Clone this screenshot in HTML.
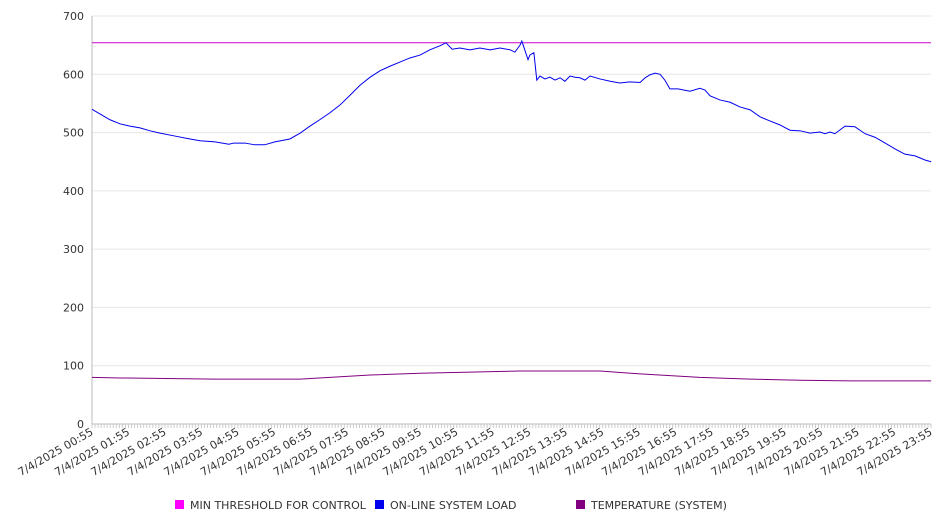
<!DOCTYPE html>
<html><head><meta charset="utf-8"><style>
body{margin:0;background:#fff;font-family:"DejaVu Sans","Liberation Sans",sans-serif;}
svg text{font-family:"DejaVu Sans","Liberation Sans",sans-serif;font-size:11px;fill:#333;}
</style></head><body>
<svg id="chart" width="946" height="526" xmlns="http://www.w3.org/2000/svg">
<g id="grid"></g><g id="axes"></g><g id="series"></g><g id="legend"></g>
</svg>
<script>
const yTicks=[0,100,200,300,400,500,600,700];
const xTickLabels=["00:55","01:55","02:55","03:55","04:55","05:55","06:55","07:55","08:55","09:55","10:55","11:55","12:55","13:55","14:55","15:55","16:55","17:55","18:55","19:55","20:55","21:55","22:55","23:55"];
const thresholdValue=654;
const loadTimes=[0.917,1.136,1.41,1.684,1.958,2.233,2.507,2.781,3.192,3.603,3.877,4.289,4.67,4.8,5.11,5.38,5.65,5.93,6.34,6.62,6.89,7.16,7.44,7.71,7.99,8.26,8.54,8.81,9.09,9.36,9.63,9.91,10.18,10.46,10.62,10.79,11.0,11.28,11.55,11.83,12.1,12.38,12.51,12.65,12.7,12.87,12.92,13.03,13.11,13.2,13.33,13.47,13.61,13.75,13.88,14.02,14.16,14.29,14.43,14.57,14.84,15.12,15.39,15.66,15.94,16.08,16.21,16.35,16.49,16.62,16.76,16.98,17.31,17.58,17.72,17.86,18.13,18.41,18.68,18.96,19.23,19.5,19.78,20.05,20.33,20.6,20.87,21.01,21.15,21.28,21.56,21.83,22.11,22.38,22.66,22.93,23.2,23.48,23.75,23.92];
const loadValues=[540,532,522,515,511,508,503,499,494,489,486,484,480,482,482,479,479,484,489,499,511,522,534,547,564,581,595,606,614,621,628,633,642,649,654,643,645,642,645,642,645,642,638,650,657,625,633,637,590,597,592,595,590,594,588,597,595,594,590,597,592,588,585,587,586,594,599,602,600,590,575,575,571,576,573,563,556,552,544,539,527,520,513,504,503,499,501,498,501,498,511,510,498,492,482,472,463,460,453,450];
const tempTimes=[0.917,1.68,4.29,6.62,7.44,8.54,9.91,11.28,12.65,14.84,15.94,17.58,18.96,20.33,21.69,23.92];
const tempValues=[80,79,77,77,80,84,87,89,91,91,86,80,77,75,74,74];

const L=92,R=931,T=16,B=424,t0=0.9167,t1=23.9167;
const xs=t=>L+(t-t0)/(t1-t0)*(R-L);
const ys=v=>B-v/700*(B-T);
const NS="http://www.w3.org/2000/svg";
function mk(tag,parent,attrs){const e=document.createElementNS(NS,tag);for(const k in attrs)e.setAttribute(k,attrs[k]);parent.appendChild(e);return e;}
const grid=document.getElementById('grid'),axes=document.getElementById('axes'),series=document.getElementById('series'),legend=document.getElementById('legend');
yTicks.forEach(v=>{
  const l=mk('line',grid,{x1:L,x2:R,y1:ys(v),y2:ys(v),stroke:v===0?'#bbb':'#e6e6e6','stroke-width':1});
  
  
  const t=mk('text',axes,{x:84,y:ys(v)+4,'text-anchor':'end'});
  
  
  t.textContent=v;
});
const ax=mk('line',axes,{x1:L,x2:L,y1:T,y2:B,stroke:'#bbb'});


for(let i=0;i<=276;i++){const x=L+i*(R-L)/276;const tk=mk('line',axes,{x1:x,x2:x,y1:B,y2:B+4,stroke:'#ccc'});
  
  }
xTickLabels.forEach((s,i)=>{
  const x=xs(t0+i)+2,y=B+10;
  const t=mk('text',axes,{x:x,y:y,'text-anchor':'end',transform:`rotate(-30 ${x} ${y})`});
  
  
  t.textContent='7/4/2025 '+s;
});
const th=mk('line',series,{x1:L,x2:R,y1:ys(thresholdValue),y2:ys(thresholdValue),stroke:'#cc00cc','stroke-width':1});


const lp=mk('polyline',series,{points:loadTimes.map((t,i)=>xs(t)+','+ys(loadValues[i])).join(' '),fill:'none',stroke:'#0000ee','stroke-width':1});


const tp=mk('polyline',series,{points:tempTimes.map((t,i)=>xs(t)+','+ys(tempValues[i])).join(' '),fill:'none',stroke:'#800080','stroke-width':1});


[['MIN THRESHOLD FOR CONTROL','#ff00ff',175],['ON-LINE SYSTEM LOAD','#0000ee',375],['TEMPERATURE (SYSTEM)','#800080',576]].forEach(d=>{
  const g=mk('g',legend,{});
  
  
  mk('rect',g,{x:d[2],y:500,width:9,height:9,fill:d[1]});
  const t=mk('text',g,{x:d[2]+15,y:509});
  t.textContent=d[0];
});
</script>
</body></html>
